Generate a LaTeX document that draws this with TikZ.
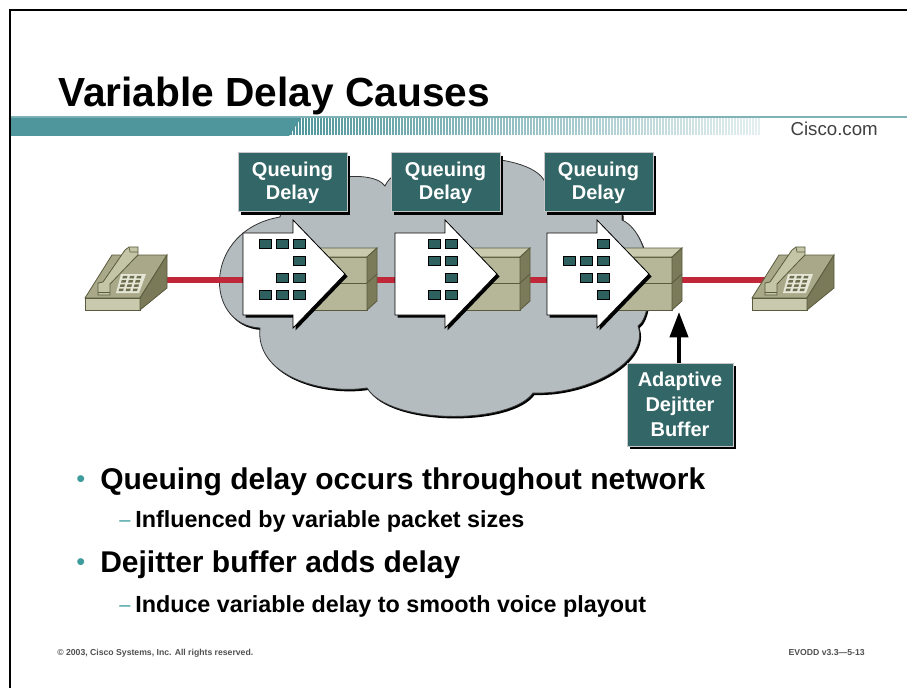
\documentclass[tikz,border=0pt]{standalone}
\usepackage{fontspec}
\setmainfont{Liberation Sans}
\usetikzlibrary{arrows.meta,shadows}

\definecolor{barteal}{HTML}{4E969C}
\definecolor{barline}{HTML}{7FB3B8}
\definecolor{qteal}{HTML}{336666}
\definecolor{boxedge}{HTML}{C8C8C8}
\definecolor{pkt}{HTML}{2E6060}
\definecolor{cloudgray}{HTML}{B4BCC0}
\definecolor{linkred}{HTML}{C0283A}
\definecolor{rfront}{HTML}{B6B698}
\definecolor{rtop}{HTML}{CACAAE}
\definecolor{rside}{HTML}{7B7B59}
\definecolor{redge}{HTML}{5A5A3E}
\definecolor{ptop}{HTML}{A9A989}
\definecolor{pfront}{HTML}{C9C9AD}
\definecolor{pside}{HTML}{7A7A58}
\definecolor{phand}{HTML}{C4C4A6}
\definecolor{pkey}{HTML}{6E6E50}
\definecolor{pkeyline}{HTML}{E6E6D6}
\definecolor{bulteal}{HTML}{3F9C9C}
\definecolor{foot}{HTML}{505050}

\tikzset{
  qbox/.style={draw=boxedge, line width=0.75pt, fill=qteal, text=white,
    font=\fontsize{15}{17.5}\selectfont\bfseries, align=center,
    minimum width=81.75pt, minimum height=44.25pt, inner sep=0pt,
    drop shadow={shadow xshift=2.25pt, shadow yshift=-2.25pt, opacity=1, fill=black}},
  packet/.style={fill=pkt, draw=black, line width=0.6pt},
  redline/.style={draw=linkred, line width=4.5pt},
  pointer/.style={line width=3pt, -{Triangle[width=13.5pt,length=19pt]}},
  stripe/.style={draw=barteal, line width=0.9pt},
  bigbullet/.style={anchor=base west, inner sep=0pt, font=\fontsize{22.5}{26}\selectfont\bfseries},
  smallbullet/.style={anchor=base west, inner sep=0pt, font=\fontsize{17.5}{21}\selectfont\bfseries},
  bulletdot/.style={anchor=base west, inner sep=0pt, text=bulteal, font=\fontsize{19}{22}\selectfont},
  dashmark/.style={anchor=base west, inner sep=0pt, text=bulteal, font=\fontsize{15}{18}\selectfont},
  footnote/.style={font=\fontsize{6.5}{8}\selectfont\bfseries, text=foot},
  router/.pic={
    \filldraw[fill=rfront, draw=redge, line width=0.6pt] (-62,0) rectangle (0,-53);
    \draw[redge, line width=0.6pt] (-62,-27) -- (0,-27);
    \filldraw[fill=rtop, draw=redge, line width=0.6pt] (-62,-53) -- (0,-53) -- (10,-62) -- (-52,-62) -- cycle;
    \filldraw[fill=rside, draw=redge, line width=0.6pt] (0,0) -- (0,-53) -- (10,-62) -- (10,-9) -- cycle;
    \draw[redge, line width=0.6pt] (0,-27) -- (10,-36);
  },
  blockarrow/.pic={
    \fill[black] (2.5,-38.5) -- (52.5,-38.5) -- (52.5,-51.5) -- (104.5,2.5) -- (52.5,56.5) -- (52.5,43.5) -- (2.5,43.5) -- cycle;
    \filldraw[fill=white, draw=black, line width=0.6pt] (0,-41) -- (50,-41) -- (50,-54) -- (102,0) -- (50,54) -- (50,41) -- (0,41) -- cycle;
  },
  phone/.pic={
    \filldraw[fill=ptop, draw=redge, line width=0.6pt] (0,-12) -- (55,-12) -- (82,-55) -- (27,-55) -- cycle;
    \filldraw[fill=pfront, draw=redge, line width=0.6pt] (0,-12) -- (55,-12) -- (55,0) -- (0,0) -- cycle;
    \filldraw[fill=pside, draw=redge, line width=0.6pt] (55,-12) -- (82,-55) -- (82,-22) -- (55,0) -- cycle;
    \fill[pkeyline] (31,-17) -- (54,-17) -- (61,-36) -- (36,-36) -- cycle;
    \foreach \i in {0,1,2} \foreach \j in {0,1,2,3} {
      \fill[pkey] ({32+21*(\i+0.18)/3+5*(\j+0.2)/4}, {-18-17*(\j+0.2)/4})
        -- ++(4.5,0) -- ++(0.8,-2.6) -- ++(-4.5,0) -- cycle;
    }
    \filldraw[fill=phand, draw=redge, line width=0.6pt] (13,-15) -- (13,-27) -- (18,-28) -- (40,-60)
      -- (44,-63) -- (53,-63) -- (53,-55) -- (48,-50) -- (26,-27) -- (25,-26) -- (25,-15) -- cycle;
    \draw[redge, line width=0.5pt] (13,-18) -- (25,-18);
    \draw[redge, line width=0.5pt] (44,-63) -- (45,-58) -- (53,-58);
  }
}

\newcommand\cloudoutline{(280,217) .. controls (285,180) and (370,165) .. (385,186)
  .. controls (400,150) and (530,148) .. (545,182)
  .. controls (585,170) and (625,190) .. (622,220)
  .. controls (655,235) and (655,315) .. (638,326)
  .. controls (650,360) and (590,395) .. (533,393)
  .. controls (510,425) and (390,425) .. (367,388)
  .. controls (320,395) and (255,375) .. (260,328)
  .. controls (203,325) and (203,230) .. (280,217) -- cycle}

\begin{document}
\begin{tikzpicture}[x=0.75pt, y=-0.75pt]
\useasboundingbox (0,0) rectangle (907,688);
\fill[white] (0,0) rectangle (907,688);

% slide frame
\draw[black, line width=1.5pt] (10,700) -- (10,10) -- (920,10);

% title and header bar
\node[anchor=base west, font=\fontsize{30.5}{34}\selectfont\bfseries, inner sep=0pt] (title) at (58,107) {Variable Delay Causes};
\fill[barline] (11,116) rectangle (907,118.5);
\foreach \sx in {291,294,...,760} {
  \pgfmathsetmacro{\op}{1-0.85*(\sx-291)/470}
  \draw[stripe, opacity=\op] (\sx,118.5) -- (\sx,135);
}
\fill[barteal] (11,118) -- (301,118) -- (289,136) -- (11,136) -- cycle;
\node[anchor=base east, font=\fontsize{14}{16}\selectfont, text=black!75, inner sep=0pt] (web) at (878,136) {Cisco.com};

% network cloud
\fill[black, shift={(1.5,2)}] \cloudoutline;
\filldraw[fill=cloudgray, draw=black!80, line width=0.6pt] \cloudoutline;

% voice path between the two phones
\coordinate (phoneL) at (160,280);
\coordinate (phoneR) at (772,280);
\draw[redline] (phoneL) -- (phoneR);

% routers along the path
\pic at (367,310) {router};
\pic at (520,310) {router};
\pic at (672,310) {router};
\coordinate (r3base) at (679,312);

% output queues with packets
\foreach \ax/\cells in {243/{0/0,1/0,2/0,2/1,1/2,2/2,0/3,1/3,2/3},
                        395/{1/0,2/0,1/1,2/1,2/2,1/3,2/3},
                        547/{2/0,0/1,1/1,2/1,1/2,2/2,2/3}} {
  \pic at (\ax,274) {blockarrow};
  \foreach \c/\r in \cells {
    \draw[packet] (\ax+16+17*\c, 239+17*\r) rectangle ++(12,9);
  }
}

% queuing delay labels
\node[qbox] (q1) at (292.5,182.5) {Queuing\\Delay};
\node[qbox] (q2) at (445.5,182.5) {Queuing\\Delay};
\node[qbox] (q3) at (598.5,182.5) {Queuing\\Delay};

% dejitter buffer label
\node[qbox, minimum width=79.5pt, minimum height=62.25pt, font=\fontsize{15}{18.5}\selectfont\bfseries] (adapt) at (680,404.5) {Adaptive\\Dejitter\\Buffer};
\draw[pointer] (adapt.north -| r3base) -- (r3base);

% telephones
\pic at (85,310) {phone};
\pic at (752,310) {phone};

% bullet text
\node[bulletdot] (d1) at (76,487) {•};
\node[bigbullet] (t1) at (100,489) {Queuing delay occurs throughout network};
\node[dashmark] (e1) at (119,526) {–};
\node[smallbullet] (t2) at (135,527) {Influenced by variable packet sizes};
\node[bulletdot] (d2) at (76,570) {•};
\node[bigbullet] (t3) at (100,572) {Dejitter buffer adds delay};
\node[dashmark] (e2) at (119,611) {–};
\node[smallbullet] (t4) at (135,612) {Induce variable delay to smooth voice playout};

% footer
\node[footnote, anchor=base west, inner sep=0pt] (copy) at (57,655) {© 2003, Cisco Systems, Inc. All rights reserved.};
\node[footnote, anchor=base east, inner sep=0pt] (code) at (865,655) {EVODD v3.3—5-13};
\end{tikzpicture}
\end{document}
